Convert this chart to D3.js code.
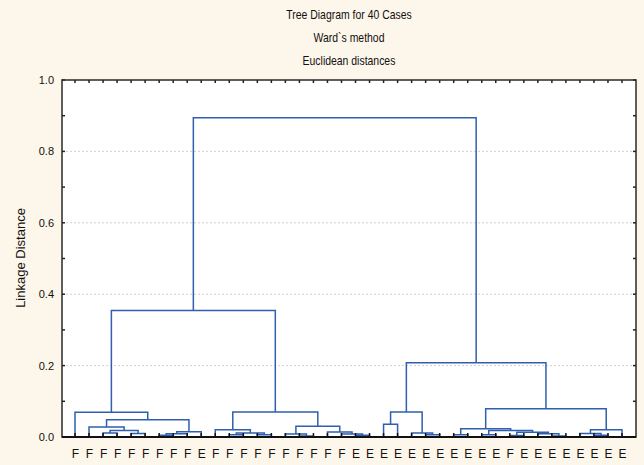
<!DOCTYPE html>
<html><head><meta charset="utf-8">
<script src="https://cdn.jsdelivr.net/npm/d3@7/dist/d3.min.js"></script>
<style>
html,body{margin:0;padding:0;background:#fdf6ea;}
svg{display:block;}
text{font-family:"Liberation Sans Narrow","Arial Narrow","Liberation Sans",Arial,sans-serif;}
</style></head>
<body>
<svg id="chart" width="644" height="465"></svg>
<script>
// ---- data ----
const titleLines = ["Tree Diagram for 40 Cases", "Ward`s method", "Euclidean distances"];
const yAxisTitle = "Linkage Distance";
const leafLabels = ["F","F","F","F","F","F","F","F","F","E",
                    "F","F","F","F","F","F","F","F","F","F",
                    "E","E","E","E","E","E","E","E","E","E",
                    "E","F","E","E","E","E","E","E","E","E"];
// linkage: indices < 40 are leaves, >= 40 refer to merge (index - 40)
const mergeLeft   = [2,4,40,1,6,44,45,43,0, 11,13,49,10,16,15,20,19,18,54,52,48, 22,25,24,61, 27,29,31,34,33,67,66,65,37,36,74,72,64,60];
const mergeRight  = [3,5,41,42,7,8,9,46,47, 12,14,50,51,17,53,21,55,56,57,58,59, 23,26,62,63, 28,30,32,35,68,69,70,71,38,73,39,75,76,77];
const mergeHeight = [0.011,0.010,0.018,0.028,0.005,0.009,0.015,0.0485,0.069,
                     0.006,0.006,0.011,0.0205,0.003,0.0085,0.005,0.0085,0.014,0.030,0.070,0.354,
                     0.036,0.006,0.011,0.070,
                     0.006,0.006,0.004,0.003,0.009,0.013,0.018,0.023,0.005,0.010,0.0205,0.079,0.208,0.894];
const yTicks = [0,0.2,0.4,0.6,0.8,1.0];
const yMinorTicks = [0.1,0.3,0.5,0.7,0.9];

// ---- layout ----
const svg = d3.select("#chart");
const L = 62, R = 636, T = 80, B = 437;
const nLeaves = leafLabels.length;
const x = d3.scalePoint().domain(d3.range(nLeaves)).range([75, 622]);
const y = d3.scaleLinear().domain([0, 1]).range([B, T]);

// plot area
svg.append("rect").attr("x", L).attr("y", T).attr("width", R - L).attr("height", B - T).attr("fill", "#ffffff");

// grid
svg.append("g").selectAll("line").data([0.2,0.4,0.6,0.8]).join("line")
  .attr("x1", L).attr("x2", R).attr("y1", d => y(d)).attr("y2", d => y(d))
  .attr("stroke", "#d0d0d0").attr("stroke-width", 1).attr("stroke-dasharray", "2,2");

// titles (condensed like the reference)
svg.append("g").selectAll("text").data(titleLines).join("text")
  .attr("transform", (d, i) => `translate(349,${19 + i * 23}) scale(0.87,1)`)
  .attr("text-anchor", "middle").attr("font-size", 12).attr("fill", "#111")
  .text(d => d);

// dendrogram
const posX = [], posH = [];
for (let i = 0; i < nLeaves; i++) { posX[i] = x(i); posH[i] = 0; }
const links = [];
mergeHeight.forEach((h, k) => {
  const a = mergeLeft[k], b = mergeRight[k];
  const id = nLeaves + k;
  posX[id] = (posX[a] + posX[b]) / 2;
  posH[id] = h;
  links.push({a, b, h});
});
svg.append("g").selectAll("path").data(links).join("path")
  .attr("d", d => `M${posX[d.a]},${y(posH[d.a])}V${y(d.h)}H${posX[d.b]}V${y(posH[d.b])}`)
  .attr("fill", "none").attr("stroke", "#2f5fae").attr("stroke-width", 1.5);

// y axis (left)
const yAxis = d3.axisLeft(y).tickValues(yTicks).tickFormat(d3.format(".1f")).tickSize(0).tickPadding(8);
const gy = svg.append("g").attr("transform", `translate(${L},0)`).call(yAxis);
gy.select(".domain").remove();
gy.selectAll("text").attr("font-size", 11).attr("fill", "#111")
  .attr("font-family", "'Liberation Sans Narrow','Liberation Sans',Arial,sans-serif");

// inner ticks left and right
const allY = yTicks.concat(yMinorTicks);
svg.append("g").selectAll("line").data(allY).join("line")
  .attr("x1", L).attr("x2", L + 3).attr("y1", d => y(d)).attr("y2", d => y(d))
  .attr("stroke", "#222").attr("stroke-width", 1.5);
svg.append("g").selectAll("line").data(allY).join("line")
  .attr("x1", R).attr("x2", R - 3).attr("y1", d => y(d)).attr("y2", d => y(d))
  .attr("stroke", "#222").attr("stroke-width", 1.5);

// leaf ticks bottom & top
const leafIdx = d3.range(nLeaves);
svg.append("g").selectAll("line").data(leafIdx).join("line")
  .attr("x1", d => x(d)).attr("x2", d => x(d)).attr("y1", B).attr("y2", B - 4)
  .attr("stroke", "#111").attr("stroke-width", 1.5);
svg.append("g").selectAll("line").data(leafIdx).join("line")
  .attr("x1", d => x(d)).attr("x2", d => x(d)).attr("y1", T).attr("y2", T + 3)
  .attr("stroke", "#222").attr("stroke-width", 1.5);

// frame
svg.append("rect").attr("x", L).attr("y", T).attr("width", R - L).attr("height", B - T)
  .attr("fill", "none").attr("stroke", "#2a2a2a").attr("stroke-width", 1.5);
svg.append("line").attr("x1", L).attr("x2", R).attr("y1", B).attr("y2", B)
  .attr("stroke", "#111").attr("stroke-width", 2);

// bottom axis labels
const xAxis = d3.axisBottom(x).tickFormat(i => leafLabels[i]).tickSize(0).tickPadding(12);
const gx = svg.append("g").attr("transform", `translate(0,${B})`).call(xAxis);
gx.select(".domain").remove();
gx.selectAll("text").attr("font-size", 12).attr("fill", "#111")
  .attr("font-family", "'Liberation Sans Narrow','Liberation Sans',Arial,sans-serif");

// y axis title
svg.append("text").attr("transform", "translate(25,258) rotate(-90)")
  .attr("text-anchor", "middle").attr("font-size", 13).attr("fill", "#111")
  .text(yAxisTitle);
</script>
</body></html>
